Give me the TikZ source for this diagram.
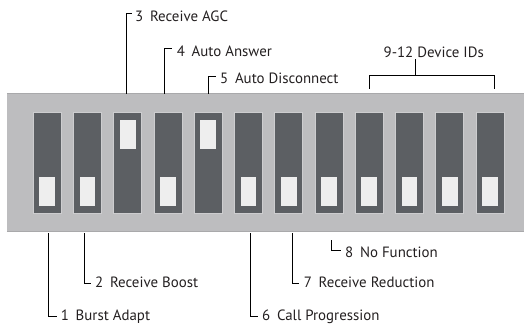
\documentclass[tikz,border=0pt]{standalone}
\usepackage{fontspec}
\setmainfont{PT Sans}
\usepackage{tikz}
\usetikzlibrary{calc,positioning}
\definecolor{panelgray}{HTML}{BDBDBF}
\definecolor{paneledge}{HTML}{A9A9AB}
\definecolor{swdark}{HTML}{5C5F63}
\definecolor{swedge}{HTML}{CDCDCF}
\definecolor{knobwhite}{HTML}{EEEEEE}
\definecolor{inkgray}{HTML}{231F20}
\newcommand{\numgap}{\hspace{0.45em}}

\begin{document}
\begin{tikzpicture}[x=1pt,y=-1pt,
  panelbox/.style={fill=panelgray,inner sep=0pt,minimum width=517pt,minimum height=137pt},
  switchbox/.style={fill=swdark,draw=swedge,line width=0.8pt,inner sep=0pt,minimum width=28pt,minimum height=100.6pt},
  knob/.style={fill=knobwhite,inner sep=0pt,minimum width=15.7pt,minimum height=29pt},
  lbl/.style={inner sep=0pt,text=inkgray,font=\fontsize{14.9}{17}\selectfont},
  lead/.style={draw=black,line width=0.9pt}]
\useasboundingbox (0,0) rectangle (524,324);
\node[panelbox] (panel) at (265.5,162.5) {};
\draw[paneledge,line width=0.8pt] (panel.north west) -- (panel.north east) (panel.south west) -- (panel.south east);
\foreach \i in {1,...,12}
  \node[switchbox] (s\i) at ({47.3+40.25*(\i-1)},163) {};
\foreach \i in {1,2,4,6,7,8,9,10,11,12}
  \node[knob] (k\i) at ($(s\i.south)+(0,-22)$) {};
\foreach \i in {3,5}
  \node[knob] (k\i) at ($(s\i.north)+(0,22.5)$) {};

\node[lbl,anchor=base west] (l3) at (135,21) {3\numgap Receive AGC};
\node[lbl,anchor=base west] (l4) at (176.7,56) {4\numgap Auto Answer};
\node[lbl,anchor=base west] (l5) at (220,83.5) {5\numgap Auto Disconnect};
\draw[lead] ($(s3.center |- panel.north)+(-1.8,0)$) |- ($(l3.base west)+(-3.5,-7.8)$);
\draw[lead] ($(s4.center |- panel.north)+(-3.3,0)$) |- ($(l4.base west)+(-4.5,-7.7)$);
\draw[lead] ($(s5.center |- panel.north)+(0,0)$) |- ($(l5.base west)+(-4.5,-7.5)$);

\node[lbl,anchor=base] (ids) at (433.7,57) {9-12 Device IDs};
\coordinate (brk) at (415.7,75);
\draw[lead] ($(ids.south -| brk)+(0,2)$) -- (brk);
\draw[lead] ($(s9.center |- panel.north)+(0,-5)$) |- ($(s12.center |- brk)+(4,0)$) -- ($(s12.center |- panel.north)+(4,-5)$);

\node[lbl,anchor=base west] (l1) at (60.7,320) {1\numgap Burst Adapt};
\node[lbl,anchor=base west] (l2) at (95,287) {2\numgap Receive Boost};
\node[lbl,anchor=base west] (l6) at (262,320) {6\numgap Call Progression};
\node[lbl,anchor=base west] (l7) at (303.7,287) {7\numgap Receive Reduction};
\node[lbl,anchor=base west] (l8) at (345,257) {8\numgap No Function};
\draw[lead] ($(s1.center |- panel.south)+(1,2)$) |- ($(l1.base west)+(-4,-3.5)$);
\draw[lead] ($(s2.center |- panel.south)+(-3.2,2)$) |- ($(l2.base west)+(-4.5,-3.5)$);
\draw[lead] ($(s6.center |- panel.south)+(1.5,2)$) |- ($(l6.base west)+(-4.5,-3.5)$);
\draw[lead] ($(s7.center |- panel.south)+(3.2,2)$) |- ($(l7.base west)+(-4.5,-3.5)$);
\draw[lead] ($(s8.center |- panel.south)+(2,9)$) |- ($(l8.base west)+(-4.5,-6.5)$);
\end{tikzpicture}
\end{document}
